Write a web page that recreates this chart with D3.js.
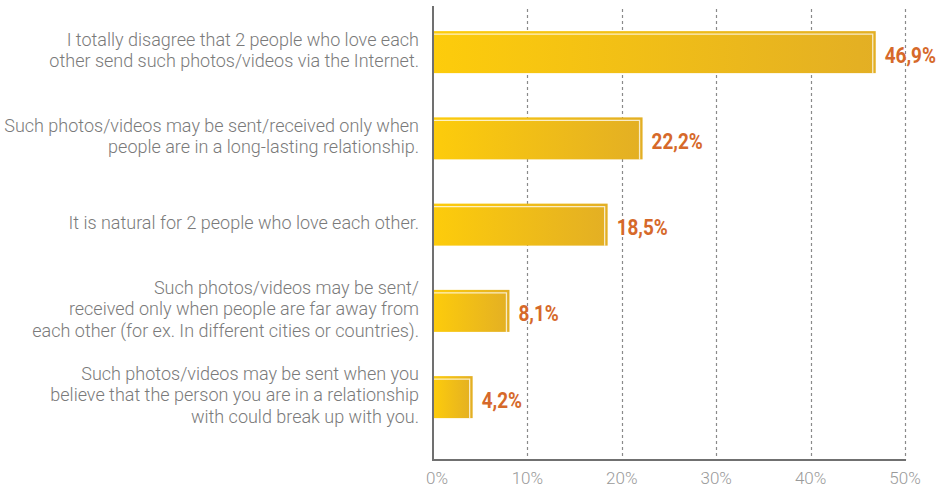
<!DOCTYPE html>
<html>
<head>
<meta charset="utf-8">
<script src="https://cdn.jsdelivr.net/npm/d3@7"></script>
<style>
body{margin:0;background:#fff;}
svg{display:block;}
</style>
</head>
<body>
<div class="main"></div>
<script>
// answers (top to bottom), each label split in lines
var categories=[
  ['I totally disagree that 2 people who love each','other send such photos/videos via the Internet.'],
  ['Such photos/videos may be sent/received only when','people are in a long-lasting relationship.'],
  ['It is natural for 2 people who love each other.'],
  ['Such photos/videos may be sent/','received only when people are far away from','each other (for ex. In different cities or countries).'],
  ['Such photos/videos may be sent when you','believe that the person you are in a relationship','with could break up with you.']
];
var values=[46.9,22.2,18.5,8.1,4.2];
var valueLabels=['46,9%','22,2%','18,5%','8,1%','4,2%'];
var ticks=[0,10,20,30,40,50];

var width=949, height=487;
var svg=d3.select('.main').append('svg')
          .attr('width',width)
          .attr('height',height);

var x=d3.scaleLinear()
        .domain([0,50])
        .range([433,905]);
var y=d3.scaleBand()
        .domain(d3.range(values.length))
        .range([9,440.25])
        .paddingInner(0.513)
        .paddingOuter(0.2565);

var axisTop=6, axisBottom=460;

// gradient for the bars
var grad=svg.append('defs').append('linearGradient')
            .attr('id','barGrad')
            .attr('x1','0%').attr('x2','100%').attr('y1','0%').attr('y2','0%');
grad.append('stop').attr('offset','0%').attr('stop-color','#FDCC0B');
grad.append('stop').attr('offset','100%').attr('stop-color','#E3AF24');

// dashed grid
svg.selectAll('.grid')
   .data(ticks.filter(function(t){return t>0;}))
   .enter().append('line')
   .attr('class','grid')
   .attr('x1',function(d){return Math.round(x(d))+0.5;})
   .attr('x2',function(d){return Math.round(x(d))+0.5;})
   .attr('y1',axisTop+3)
   .attr('y2',axisBottom)
   .attr('stroke','#8a8a8a')
   .attr('stroke-width',1.2)
   .attr('stroke-dasharray','3,3');

// bars
var bar=svg.selectAll('.bar')
   .data(values)
   .enter().append('g')
   .attr('class','bar');

bar.append('rect')
   .attr('x',x(0))
   .attr('y',function(d,i){return y(i);})
   .attr('width',function(d){return x(d)-x(0);})
   .attr('height',y.bandwidth())
   .attr('fill','url(#barGrad)');

// light bevel line along top and right edge
bar.append('path')
   .attr('d',function(d,i){
     var x0=x(0), x1=x(d)-3, y0=y(i)+3, y1=y(i)+y.bandwidth();
     return 'M'+x0+','+y0+'L'+x1+','+y0+'L'+x1+','+y1;
   })
   .attr('fill','none')
   .attr('stroke','#fff')
   .attr('stroke-opacity',0.75)
   .attr('stroke-width',1.3);

// value labels (narrowed to look condensed)
svg.selectAll('.val')
   .data(values)
   .enter().append('text')
   .attr('class','val')
   .attr('transform',function(d,i){
     return 'translate('+(x(d)+9)+','+(y(i)+y.bandwidth()/2+3)+') scale(0.88,1)';
   })
   .attr('dy','0.35em')
   .attr('font-family','Roboto, sans-serif')
   .attr('font-weight','bold')
   .attr('font-size','21.5px')
   .attr('fill','#D6692A')
   .text(function(d,i){return valueLabels[i];});

// category labels
var lineH=21.5;
svg.selectAll('.cat')
   .data(categories)
   .enter().append('text')
   .attr('class','cat')
   .attr('text-anchor','end')
   .attr('font-family','Roboto, sans-serif')
   .attr('font-weight','300')
   .attr('font-size','18px')
   .attr('fill','#7a7a7a')
   .each(function(d,i){
     var t=d3.select(this);
     var cy=y(i)+y.bandwidth()/2-2;
     var start=cy-(d.length-1)*lineH/2;
     d.forEach(function(line,k){
       t.append('tspan')
        .attr('x',419)
        .attr('y',start+k*lineH)
        .attr('dy','0.35em')
        .text(line);
     });
   });

// axes lines
svg.append('line')
   .attr('x1',x(0)).attr('x2',x(0))
   .attr('y1',axisTop).attr('y2',axisBottom+1)
   .attr('stroke','#707070').attr('stroke-width',2);
svg.append('line')
   .attr('x1',x(0)).attr('x2',x(50)+1)
   .attr('y1',axisBottom).attr('y2',axisBottom)
   .attr('stroke','#707070').attr('stroke-width',2);

// x tick labels
svg.selectAll('.tick')
   .data(ticks)
   .enter().append('text')
   .attr('class','tick')
   .attr('x',function(d){return x(d)+(d===0?4:0);})
   .attr('y',478)
   .attr('dy','0.35em')
   .attr('text-anchor','middle')
   .attr('font-family','Roboto, sans-serif')
   .attr('font-weight','300')
   .attr('font-size','17px')
   .attr('fill','#9a9a9a')
   .text(function(d){return d+'%';});
</script>
</body>
</html>
